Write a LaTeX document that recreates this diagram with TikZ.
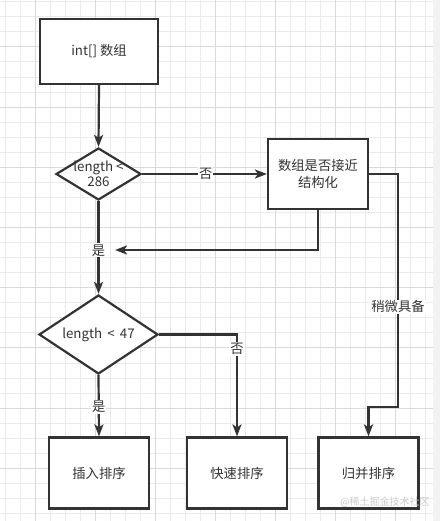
\documentclass[tikz,border=0pt]{standalone}
\usepackage{fontspec}
\setmainfont{Noto Sans CJK SC}
\usetikzlibrary{shapes.geometric,arrows.meta}
\definecolor{ink}{HTML}{333333}
\definecolor{gridminor}{HTML}{EAEAEA}
\definecolor{gridmajor}{HTML}{DADADA}
\definecolor{strip}{HTML}{F2F2F2}
\definecolor{wmark}{HTML}{CCCCCC}
\tikzset{
  box/.style={draw=ink, line width=2.2pt, fill=white, rectangle, inner sep=0pt,
    font=\fontsize{13.3}{16.5}\selectfont, text=ink, align=center},
  dia/.style={draw=ink, line width=2.2pt, fill=white, diamond, inner sep=0pt},
  arr/.style={draw=ink, line width=2.2pt, -{Stealth[length=12pt,width=9pt,inset=3pt]}},
  lbl/.style={fill=white, inner sep=1pt, text=ink, font=\fontsize{13.3}{14}\selectfont},
  dtext/.style={text=ink, align=center, font=\fontsize{13.3}{14.5}\selectfont},
}
\begin{document}
\begin{tikzpicture}[x=1pt,y=-1pt]
\useasboundingbox (0,0) rectangle (440,521);
\fill[white] (0,0) rectangle (440,521);
% grid
\foreach \k in {0,...,28} {
  \draw[gridminor, line width=0.8pt] ({5+15*\k},0) -- ({5+15*\k},521);
}
\foreach \k in {0,...,34} {
  \draw[gridminor, line width=0.8pt] (0,{1.7+15.05*\k}) -- (440,{1.7+15.05*\k});
}
\foreach \k in {0,...,6} {
  \draw[gridmajor, line width=0.8pt] ({35+60*\k},0) -- ({35+60*\k},521);
}
\foreach \k in {0,...,8} {
  \draw[gridmajor, line width=0.8pt] (0,{1.7+15.05*(3+4*\k)}) -- (440,{1.7+15.05*(3+4*\k)});
}
\fill[strip] (433,0) rectangle (440,521);

% nodes
\node[box, minimum width=118pt, minimum height=65pt] (b1) at (99,51.5) {int[] 数组};
\node[dia, minimum width=85pt, minimum height=52pt,
      label={[dtext]center:length <\\286}] (d1) at (98.5,174) {};
\node[box, minimum width=100pt, minimum height=70pt] (b2) at (318,174) {数组是否接近\\结构化};
\node[dia, minimum width=119pt, minimum height=79pt,
      label={[dtext]center:length \,<\, 47}] (d2) at (98.5,334.5) {};
\node[box, minimum width=100pt, minimum height=71pt] (b3) at (99,473) {插入排序};
\node[box, minimum width=100pt, minimum height=71pt] (b4) at (237,473) {快速排序};
\node[box, minimum width=100pt, minimum height=71pt] (b5) at (368.5,473) {归并排序};
\coordinate (c1) at (115,250);
\coordinate (c2) at (398,407);

% connectors
\draw[arr] (b1.south) -- (d1.north);
\draw[arr] (d1.east) -- node[lbl, pos=0.51] {否} (b2.west);
\draw[arr] (b2.south) |- (c1);
\draw[arr] (d1.south) -- node[lbl, pos=0.53] {是} (d2.north);
\draw[arr] (b2.east) -| node[lbl, pos=0.785] {稍微具备} (c2) -| (b5.north);
\draw[arr] (d2.east) -| node[lbl, pos=0.57] {否} (b4.north);
\draw[arr] (d2.south) -- node[lbl, pos=0.52] {是} (b3.north);

% watermark
\node[text=wmark, font=\fontsize{10}{12}\selectfont, inner sep=0pt] (wm) at (385,502) {@稀土掘金技术社区};
\end{tikzpicture}
\end{document}
